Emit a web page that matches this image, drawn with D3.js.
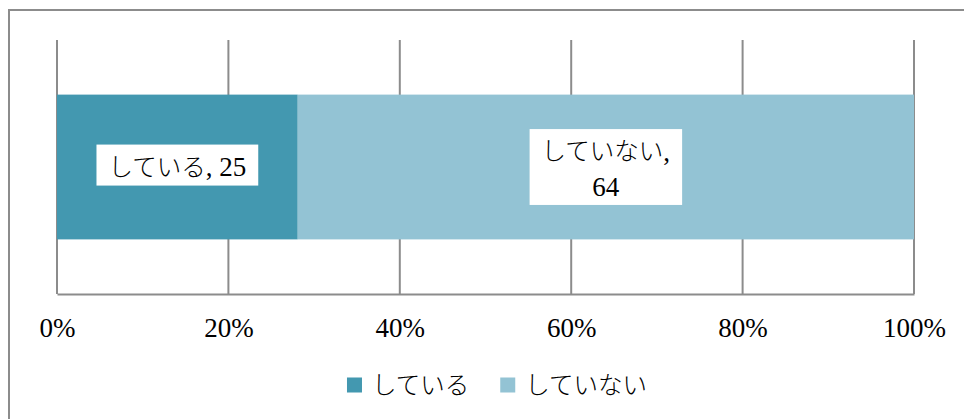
<!DOCTYPE html>
<html>
<head>
<meta charset="utf-8">
<script src="https://cdn.jsdelivr.net/npm/d3@7"></script>
<style>
  html, body { margin: 0; padding: 0; background: #fff; }
  svg { display: block; }
</style>
</head>
<body>
<svg id="chart" width="964" height="419"></svg>
<script>
// Survey result: one 100% stacked bar
const categories = ["している", "していない"];
const values = [25, 64];
const colors = ["#4398b0", "#93c3d4"];
const tickValues = [0, 0.2, 0.4, 0.6, 0.8, 1.0];
const tickLabels = ["0%", "20%", "40%", "60%", "80%", "100%"];

const SERIF = "Liberation Serif";
const JP = "Noto Sans CJK JP";
const JP_SIZE = 24.5, NUM_SIZE = 27;
const svg = d3.select("#chart");

// chart frame (extends past the right and bottom edges)
svg.append("rect")
  .attr("x", 9).attr("y", 10)
  .attr("width", 1000).attr("height", 500)
  .attr("fill", "#fff")
  .attr("stroke", "#8c8c8c").attr("stroke-width", 2);

const plot = { left: 57, right: 914, top: 40, bottom: 294 };

const x = d3.scaleLinear().domain([0, 1]).range([plot.left, plot.right]);
const y = d3.scaleBand().domain(["bar"]).range([plot.top, plot.bottom]).paddingInner(0.43).paddingOuter(0.215);

// vertical gridlines
svg.append("g")
  .selectAll("line")
  .data(tickValues)
  .join("line")
  .attr("x1", d => x(d)).attr("x2", d => x(d))
  .attr("y1", plot.top).attr("y2", plot.bottom)
  .attr("stroke", "#8c8c8c").attr("stroke-width", 2);

// stacked segments
const total = d3.sum(values);
let acc = 0;
const segs = values.map((v, i) => {
  const s = { i, v, x0: acc / total, x1: (acc + v) / total };
  acc += v;
  return s;
});

svg.append("g")
  .selectAll("rect")
  .data(segs)
  .join("rect")
  .attr("x", d => x(d.x0))
  .attr("width", d => x(d.x1) - x(d.x0))
  .attr("y", y("bar"))
  .attr("height", y.bandwidth())
  .attr("fill", d => colors[d.i]);

// bottom axis line and tick labels
const axis = d3.axisBottom(x)
  .tickValues(tickValues)
  .tickFormat((d, i) => tickLabels[i])
  .tickSize(0)
  .tickPadding(24);

const ax = svg.append("g")
  .attr("transform", `translate(0,${plot.bottom})`)
  .call(axis);
ax.select(".domain").attr("stroke", "#8c8c8c").attr("stroke-width", 2);
ax.selectAll(".tick line").remove();
ax.selectAll("text")
  .style("font-family", SERIF)
  .style("font-size", NUM_SIZE + "px")
  .attr("fill", "#000");

// data labels on white boxes: category name (Japanese) followed by value (serif digits)
const lineH = 35;
const labelParts = segs.map(s =>
  s.i === 0
    ? [[categories[s.i], ", " + values[s.i]]]
    : [[categories[s.i], ","], ["", String(values[s.i])]]
);

function piece(g, str, family, size, weight) {
  return g.append("text")
    .style("font-family", family)
    .style("font-size", size + "px")
    .style("font-weight", weight)
    .style("white-space", "pre")
    .attr("dy", "0.35em")
    .attr("fill", "#000")
    .text(str);
}

const lbl = svg.append("g");
segs.forEach(s => {
  const cx = (x(s.x0) + x(s.x1)) / 2;
  const cy = y("bar") + y.bandwidth() / 2 + (labelParts[s.i].length > 1 ? 2 : 0);
  const lines = labelParts[s.i];
  const g = lbl.append("g");
  const box = g.append("rect").attr("fill", "#fff");
  const y0 = cy - (lines.length - 1) * lineH / 2;
  const boxes = [];
  lines.forEach((parts, k) => {
    const ly = y0 + k * lineH;
    const a = parts[0] ? piece(g, parts[0], JP, JP_SIZE, 300) : null;
    const b = piece(g, parts[1], SERIF, NUM_SIZE, 400);
    const wa = a ? a.node().getComputedTextLength() : 0;
    const wb = b.node().getComputedTextLength();
    const left = cx - (wa + wb) / 2;
    if (a) a.attr("x", left).attr("y", ly);
    b.attr("x", left + wa).attr("y", ly);
    if (a) boxes.push(a.node().getBBox());
    boxes.push(b.node().getBBox());
  });
  const x0 = d3.min(boxes, d => d.x), x1 = d3.max(boxes, d => d.x + d.width);
  const yA = d3.min(boxes, d => d.y), yB = d3.max(boxes, d => d.y + d.height);
  const padX = 12, padY = 3;
  box.attr("x", x0 - padX).attr("y", yA - padY)
    .attr("width", x1 - x0 + 2 * padX).attr("height", yB - yA + 2 * padY);
});

// legend
const legend = svg.append("g");
const legY = 385;
const sw = 15, gapSw = 10, gapItem = 31;
const items = categories.map((c, i) => {
  const g = legend.append("g");
  g.append("rect").attr("width", sw).attr("height", sw).attr("y", -sw / 2).attr("fill", colors[i]);
  const t = piece(g, c, JP, JP_SIZE, 300).attr("x", sw + gapSw);
  return { g, w: sw + gapSw + t.node().getComputedTextLength() };
});
const totalW = d3.sum(items, d => d.w) + gapItem * (items.length - 1);
let lx = 497 - totalW / 2;
items.forEach(it => {
  it.g.attr("transform", `translate(${lx},${legY})`);
  lx += it.w + gapItem;
});
</script>
</body>
</html>
